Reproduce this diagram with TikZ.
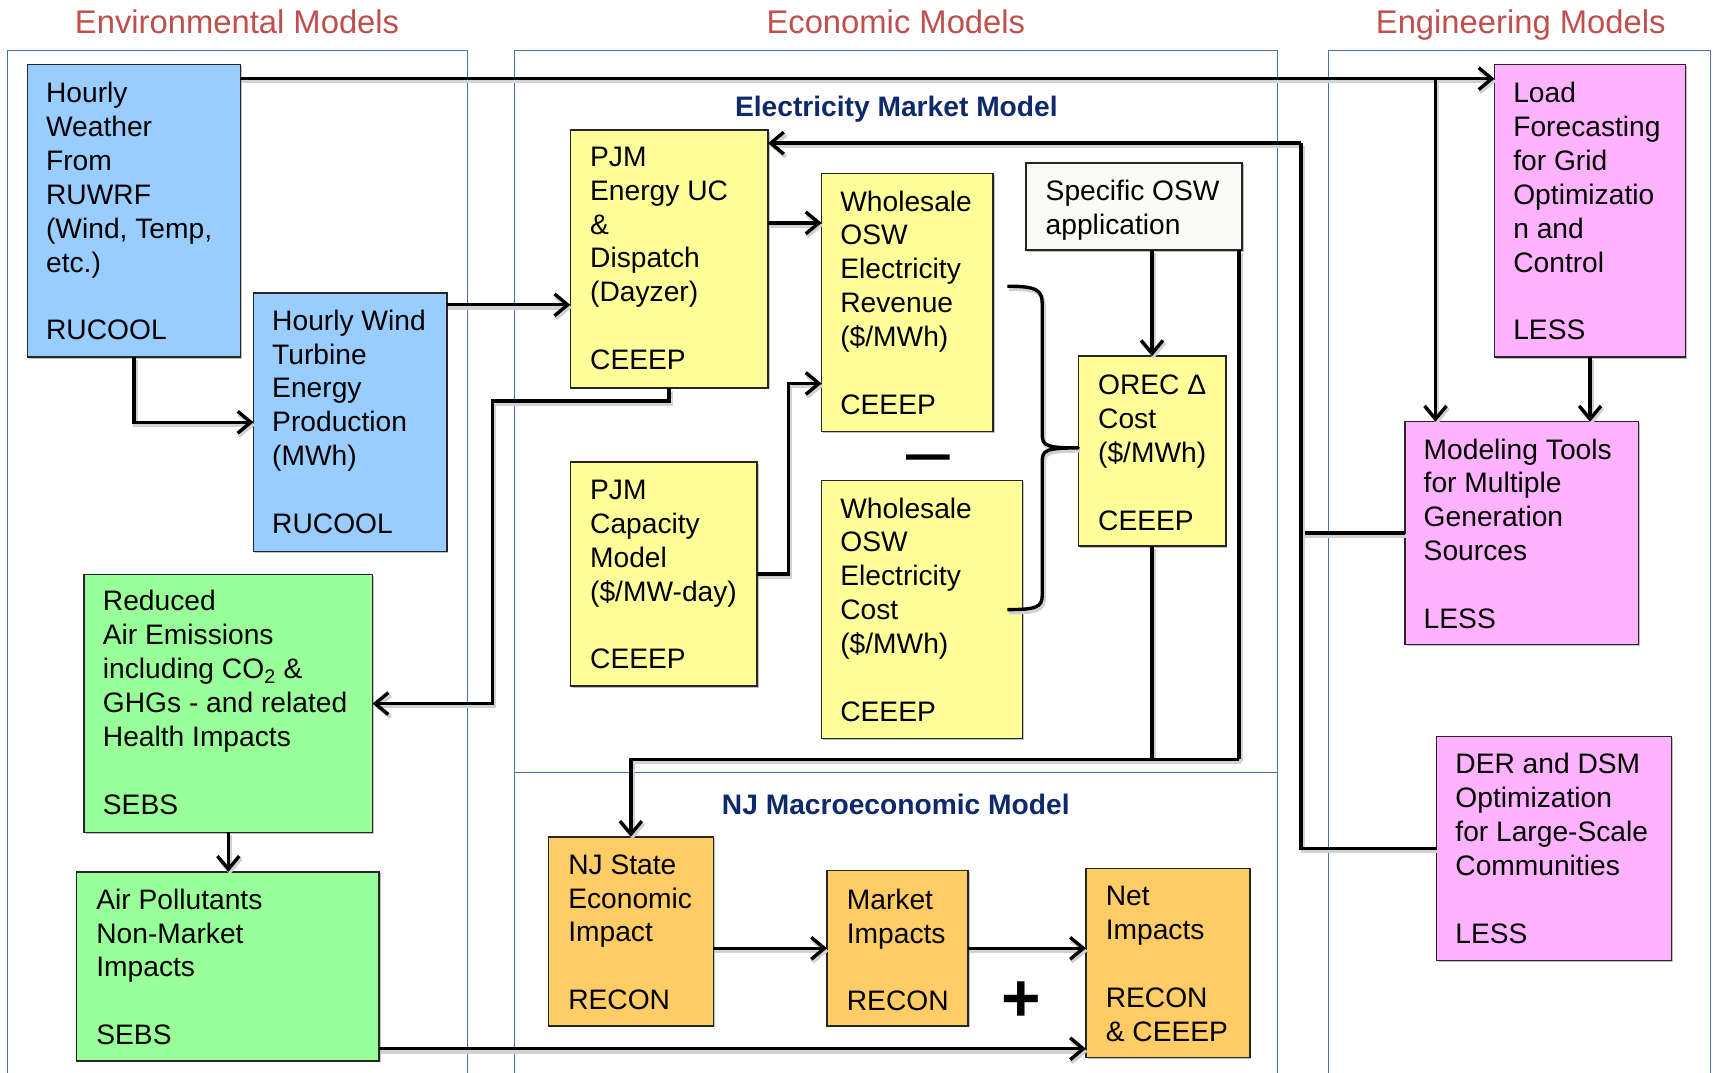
\documentclass[tikz,border=0pt]{standalone}
\usepackage{fontspec}
\setmainfont{Liberation Sans}
\usetikzlibrary{arrows.meta,shadows}
\definecolor{cblue}{HTML}{99CCFF}
\definecolor{cgreen}{HTML}{99FF99}
\definecolor{cyellow}{HTML}{FFFF99}
\definecolor{corange}{HTML}{FFCC66}
\definecolor{cpink}{HTML}{FFB3FF}
\definecolor{cwhite}{HTML}{FAFAF7}
\definecolor{frameblue}{HTML}{4F70A8}
\definecolor{titlered}{HTML}{C0504D}
\definecolor{navy}{HTML}{0F2A6B}
% #1 name, #2 x1, #3 y1, #4 x2, #5 y2, #6 fill, #7 text x, #8 first baseline, #9 text
\newcommand\bx[9]{%
  \node[boxs, fill=#6, minimum width=#4pt-#2pt, minimum height=#5pt-#3pt, anchor=north west] (#1) at (#2,#3) {};
  \node[txt] (#1-t) at (#7,#8-24) {\rule{0pt}{24pt}#9};}
\begin{document}
\begin{tikzpicture}[x=1pt,y=-1pt,
  boxs/.style={rectangle, draw=black!85, line width=1.4pt, inner sep=0pt, outer sep=0pt,
    drop shadow={shadow xshift=1.5pt, shadow yshift=-1.5pt, opacity=0.25, fill=black}},
  txt/.style={font=\fontsize{25.8}{31}\selectfont, align=left, inner sep=0pt, anchor=north west},
  shd/.style={preaction={draw=black!18, line width=3.8pt, transform canvas={shift={(1.5,2.5)}}}},
  arr/.style={shd, line width=3.1pt, -{Straight Barb[length=12pt,width=20pt]}},
  conn/.style={shd, line width=3.1pt},
  frame/.style={draw=frameblue, line width=1pt},
  coltitle/.style={font=\fontsize{30}{36}\selectfont, text=titlered, anchor=base, inner sep=0pt},
  subtitle/.style={font=\bfseries\fontsize{25.8}{31}\selectfont, text=navy, anchor=base, inner sep=0pt}]
\useasboundingbox (0,0) rectangle (1568,982);
\fill[white] (0,0) rectangle (1568,982);

% column frames
\draw[frame] (7,982) -- (7,46) -- (428,46) -- (428,982);
\draw[frame] (471,982) -- (471,46) -- (1169,46) -- (1169,982);
\draw[frame] (471,707) -- (1169,707);
\draw[frame] (1216,982) -- (1216,46) -- (1566,46) -- (1566,982);

% titles
\node[coltitle] (t-env) at (217,30.5) {Environmental Models};
\node[coltitle] (t-eco) at (820,30.5) {Economic Models};
\node[coltitle] (t-eng) at (1392,30.5) {Engineering Models};
\node[subtitle] (h-emm) at (820.5,107) {Electricity Market Model};
\node[subtitle] (h-nj) at (820,746) {NJ Macroeconomic Model};

% boxes
\bx{wx}{25}{59}{220}{327}{cblue}{42}{94}{Hourly\\Weather\\From\\RUWRF\\(Wind, Temp,\\etc.)\\[31pt]RUCOOL}
\bx{wind}{232}{268}{409}{505}{cblue}{249}{302}{Hourly Wind\\Turbine\\Energy\\Production\\(MWh)\\[31pt]RUCOOL}
\bx{air}{77}{526}{341}{762}{cgreen}{94}{559}{Reduced\\Air Emissions\\including CO\textsubscript{2} \&\\GHGs - and related\\Health Impacts\\[31pt]SEBS}
\bx{poll}{70}{798}{347}{971}{cgreen}{88}{832}{Air Pollutants\\Non-Market\\Impacts\\[31pt]SEBS}
\bx{pjm}{522}{119}{703}{355}{cyellow}{540}{152}{PJM\\Energy UC\\\&\\Dispatch\\(Dayzer)\\[31pt]CEEEP}
\bx{rev}{752}{159}{909}{395}{cyellow}{769}{193}{Wholesale\\OSW\\Electricity\\Revenue\\(\$/MWh)\\[31pt]CEEEP}
\bx{osw}{939}{149}{1137}{229}{cwhite}{957}{183}{Specific OSW\\application}
\bx{orec}{987}{326}{1122}{500}{cyellow}{1005}{361}{OREC Δ\\Cost\\(\$/MWh)\\[31pt]CEEEP}
\bx{cap}{522}{423}{693}{628}{cyellow}{540}{457}{PJM\\Capacity\\Model\\(\$/MW-day)\\[31pt]CEEEP}
\bx{cost}{752}{440}{936}{676}{cyellow}{769}{474}{Wholesale\\OSW\\Electricity\\Cost\\(\$/MWh)\\[31pt]CEEEP}
\bx{njs}{502}{766}{653}{939}{corange}{520}{800}{NJ State\\Economic\\Impact\\[31pt]RECON}
\bx{mkt}{757}{797}{886}{939}{corange}{775}{832}{Market\\Impacts\\[31pt]RECON}
\bx{net}{994}{795}{1144}{968}{corange}{1012}{829}{Net\\Impacts\\[31pt]RECON\\\& CEEEP}
\bx{load}{1368}{59}{1543}{327}{cpink}{1385}{94}{Load\\Forecasting\\for Grid\\Optimizatio\\n and\\Control\\[31pt]LESS}
\bx{mod}{1286}{386}{1500}{590}{cpink}{1303}{420}{Modeling Tools\\for Multiple\\Generation\\Sources\\[31pt]LESS}
\bx{der}{1315}{674}{1530}{879}{cpink}{1332}{708}{DER and DSM\\Optimization\\for Large-Scale\\Communities\\[31pt]LESS}

% minus, plus
\node[font=\fontsize{72}{80}\selectfont, anchor=base, inner sep=0pt] (minus) at (850,437.5) {–};
\node[font=\bfseries\fontsize{62}{70}\selectfont, anchor=base, inner sep=0pt] (plus) at (935,935) {+};

% brace
\draw[conn, line join=round] (922,262) .. controls (948,262) and (954,265) .. (954,278) -- (954,398)
  .. controls (954,408) and (958,410) .. (987,410)
  .. controls (958,410) and (954,412) .. (954,422) -- (954,545)
  .. controls (954,556) and (948,558) .. (922,558);

% connectors
\coordinate (j1) at (1314,72);
\draw[arr] ([yshift=-13pt]wx.north east) -- ([yshift=-13pt]load.north west);
\draw[arr] (j1) -- (j1 |- mod.north);
\draw[arr] (load.south) -- (load.south |- mod.north);
\draw[arr] (wx.south) |- (wind.west);
\coordinate (p4) at ([yshift=-11pt]wind.north east);
\draw[arr] (p4) -- (p4 -| pjm.west);
\coordinate (p5) at ([yshift=-85pt]pjm.north east);
\draw[arr] (p5) -- (p5 -| rev.west);
\coordinate (k6) at (451,367);
\draw[arr] (pjm.south) |- (k6) |- (air.east);
\coordinate (k7) at (722,351);
\draw[arr] (cap.east) -| (k7) -- (k7 -| rev.west);
\draw[arr] (orec.north |- osw.south) -- (orec.north);
\coordinate (t1) at (1134,695);
\coordinate (t0) at ([xshift=-3pt]osw.south east);
\draw[conn] (t0) -- (t1);
\draw[conn] (orec.south) -- (orec.south |- t1);
\draw[arr] (t1) -| (njs.north);
\coordinate (f1) at (1191,131);
\draw[arr] (f1) -- (f1 -| pjm.east);
\draw[conn] (mod.west) -| (f1);
\draw[conn] (der.west) -| (f1);
\draw[arr] (njs.east |- mkt.west) -- (mkt.west);
\draw[arr] (mkt.east) -- (mkt.east -| net.west);
\coordinate (p13) at ([yshift=11pt]poll.south east);
\draw[arr] (p13) -- (p13 -| net.west);
\draw[arr] (air.south) -- (air.south |- poll.north);
\end{tikzpicture}
\end{document}
